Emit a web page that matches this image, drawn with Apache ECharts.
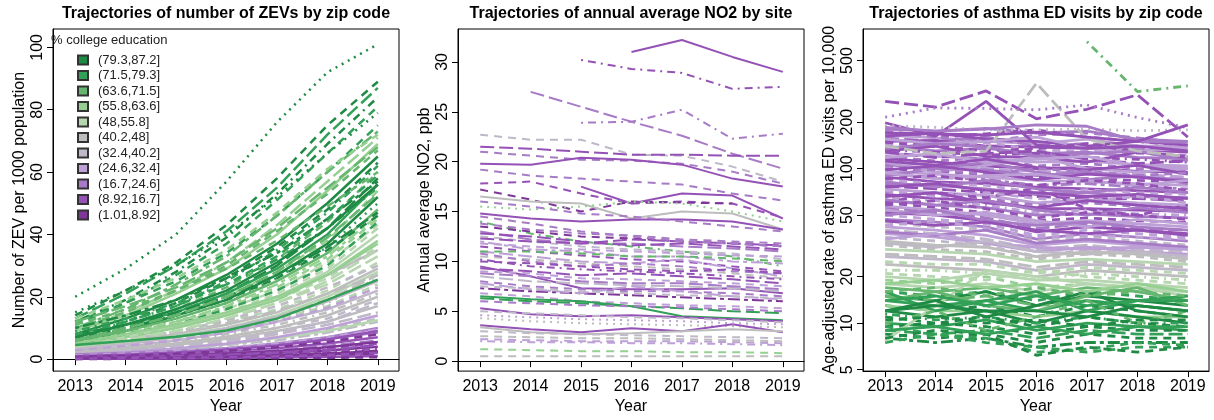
<!DOCTYPE html>
<html>
<head>
<meta charset="utf-8">
<script src="https://cdn.jsdelivr.net/npm/echarts@6/dist/echarts.min.js"></script>
<style>
  html, body { margin: 0; padding: 0; background: #fff; }
  #chart { width: 1214px; height: 420px; }
</style>
</head>
<body>
<div id="chart"></div>
<script>
const years = [2013, 2014, 2015, 2016, 2017, 2018, 2019];

const classLabels = ['(79.3,87.2]', '(71.5,79.3]', '(63.6,71.5]', '(55.8,63.6]', '(48,55.8]',
  '(40.2,48]', '(32.4,40.2]', '(24.6,32.4]', '(16.7,24.6]', '(8.92,16.7]', '(1.01,8.92]'];

const zevTicks = [0, 20, 40, 60, 80, 100];
const no2Ticks = [0, 5, 10, 15, 20, 25, 30];
const asthmaTicks = [5, 10, 20, 50, 100, 200, 500];

// ZEV per 1000 population, one row per zip code (2013..2019)
const zevValues = [
  // middle education groups
  [4.0, 6.0, 8.5, 12, 16, 22, 31], [3.5, 5.5, 8.0, 11, 15, 21, 29], [3.0, 5.0, 7.0, 10, 14, 19, 27],
  [3.0, 4.5, 6.5, 9.0, 13, 17, 24], [2.5, 4.0, 6.0, 8.5, 12, 16, 22], [2.5, 3.5, 5.5, 8.0, 11, 15, 21],
  [2.0, 3.5, 5.0, 7.0, 10, 13, 19], [2.0, 3.0, 4.5, 6.5, 9.0, 12, 17], [1.5, 2.5, 4.0, 5.5, 8.0, 11, 15],
  [1.5, 2.5, 3.5, 5.0, 7.0, 9.5, 13], [1.0, 2.0, 3.0, 4.5, 6.0, 8.5, 12], [3.5, 5.0, 7.5, 10, 14, 20, 28],
  [4.5, 6.5, 9.0, 13, 18, 24, 33], [5.0, 7.0, 10, 14, 19, 26, 36], [2.8, 4.2, 6.2, 9.0, 12.5, 18, 26],
  [1.2, 2.2, 3.2, 4.8, 6.8, 9.0, 12.5],
  [5.5, 7.5, 10.5, 14.5, 20, 27, 35], [4.2, 6.2, 8.8, 12.5, 17, 23, 30], [3.8, 5.8, 8.2, 11.5, 15.5, 21, 27],
  [3.2, 4.8, 7.0, 9.8, 13.5, 18.5, 25], [2.7, 4.2, 6.0, 8.5, 12, 16.5, 23], [2.2, 3.4, 5.0, 7.2, 10, 14, 20],
  [1.8, 2.8, 4.2, 6.0, 8.5, 12, 18], [1.4, 2.3, 3.4, 4.9, 7.0, 10, 14],
  [5, 7.5, 10.5, 14.5, 20, 28, 40], [6, 8.5, 12, 16.5, 23, 32, 45], [5.5, 8, 11.5, 16, 22, 31, 43],
  [4.8, 7, 10, 14, 19, 27, 37],
  // low education groups
  [1.0, 1.6, 2.4, 3.5, 5.0, 7.0, 10], [0.8, 1.3, 2.0, 2.9, 4.2, 6.0, 8.5], [0.6, 1.0, 1.6, 2.4, 3.5, 5.0, 7.0],
  [0.5, 0.9, 1.4, 2.0, 3.0, 4.2, 6.0], [0.4, 0.7, 1.1, 1.6, 2.4, 3.4, 5.0], [0.3, 0.5, 0.9, 1.3, 1.9, 2.8, 4.0],
  [0.3, 0.5, 0.8, 1.1, 1.6, 2.3, 3.3], [0.2, 0.4, 0.6, 0.9, 1.3, 1.9, 2.7], [0.2, 0.3, 0.5, 0.7, 1.0, 1.5, 2.1],
  [0.1, 0.2, 0.3, 0.5, 0.7, 1.1, 1.5], [0.1, 0.1, 0.2, 0.3, 0.5, 0.7, 1.0], [0.0, 0.1, 0.1, 0.2, 0.3, 0.4, 0.6],
  [1.5, 2.0, 2.6, 3.4, 4.8, 6.5, 8.5], [1.2, 1.8, 2.6, 3.6, 5.0, 7.0, 9.5],
  [0.9, 1.4, 2.1, 3.1, 4.4, 6.3, 9], [0.7, 1.1, 1.7, 2.6, 3.8, 5.5, 8], [0.5, 0.8, 1.2, 1.8, 2.6, 3.8, 5.5],
  [0.4, 0.6, 1.0, 1.4, 2.1, 3.0, 4.5], [0.2, 0.3, 0.5, 0.8, 1.2, 1.8, 2.5], [0.15, 0.25, 0.4, 0.6, 0.9, 1.3, 2.0],
  // high education groups
  [20, 29, 40, 57, 76, 92, 101], [14, 22, 31, 43, 58, 75, 89], [13, 21, 30, 41, 55, 72, 87],
  [12, 19, 28, 39, 53, 69, 84], [11, 18, 27, 37, 51, 66, 81], [15, 22, 30, 40, 52, 66, 79],
  [12, 18, 25, 34, 46, 60, 75], [10, 16, 24, 33, 46, 60, 73], [9, 15, 22, 31, 43, 57, 71],
  [9, 14, 21, 29, 40, 54, 69], [10, 15, 22, 30, 41, 53, 67], [8, 13, 19, 27, 37, 50, 65],
  [8, 12, 18, 26, 36, 48, 63], [7, 12, 17, 25, 35, 47, 62], [7, 11, 16, 23, 32, 44, 60],
  [6, 10, 15, 21, 30, 42, 58], [7, 11, 15, 21, 29, 40, 56], [6, 10, 14, 20, 28, 38, 54],
  [6, 9, 14, 19, 27, 37, 52], [5, 9, 13, 18, 26, 36, 50], [6, 9, 13, 18, 25, 34, 48],
  [5, 8, 12, 17, 24, 33, 46], [5, 8, 11, 16, 22, 30, 44], [4, 7, 11, 15, 21, 29, 42],
  [5, 8, 11, 15, 20, 27, 38], [4, 6, 9, 13, 18, 25, 35], [4.5, 5.8, 7.2, 9.2, 13, 19, 25.5],
  [8, 11, 15, 20, 27, 36, 47], [9, 13, 18, 24, 32, 42, 55], [7, 10, 14, 19, 26, 35, 46],
  [11, 16, 22, 29, 38, 49, 60], [10, 14, 19, 26, 34, 45, 57], [13, 19, 26, 35, 47, 61, 72],
  [12, 17, 23, 31, 42, 55, 68],
  [7, 11, 16, 22, 31, 42, 56], [8, 12, 17, 24, 33, 45, 59], [6, 10, 14, 20, 28, 39, 53]
];
const zevClass = [
  4, 5, 5, 4, 6, 5, 6, 5, 6, 5, 6, 4, 4, 4, 5, 4,
  5, 6, 5, 6, 7, 5, 6, 7,
  4, 3, 4, 3,
  8, 8, 9, 8, 9, 10, 9, 10, 10, 10, 9, 10, 8, 7,
  9, 10, 10, 9, 10, 9,
  0, 0, 1, 0, 1, 0, 1, 2, 3, 3, 2, 0, 0, 1, 2, 0, 1, 3, 0, 1, 2, 3, 1, 4, 3, 4, 1, 0, 1, 0, 2, 0, 3, 2,
  0, 1, 2];
const zevLty = [
  1, 0, 4, 1, 0, 3, 1, 0, 4, 1, 5, 0, 4, 1, 2, 0,
  0, 1, 4, 0, 1, 0, 4, 0,
  0, 1, 4, 0,
  0, 1, 0, 4, 1, 0, 3, 1, 0, 4, 0, 1, 0, 1,
  0, 1, 0, 4, 0, 1,
  2, 1, 4, 3, 1, 2, 1, 5, 4, 0, 1, 0, 1, 3, 1, 4, 0, 1, 0, 2, 0, 5, 1, 1, 0, 4, 0, 4, 3, 1, 1, 5, 1, 4,
  0, 1, 4];

// annual average NO2 (ppb) by monitoring site, null = no data that year
const no2Values = [
  [null, null, null, 31.0, 32.2, 30.5, 29.0], [null, null, 30.2, 29.3, 28.9, 27.3, 27.5],
  [null, 27.0, 25.5, 24.0, 22.6, 20.8, 19.3], [null, null, 23.9, 24.0, 25.2, 22.3, 22.8],
  [22.7, 22.2, 22.2, 20.7, 20.6, 19.5, 18.0], [21.5, 21.3, 21.0, 20.7, 20.7, 20.6, 20.6],
  [21.0, 20.6, 20.2, 20.1, 19.8, 19.0, 17.8], [19.8, 19.7, 20.4, 20.2, 19.7, 18.3, 17.5],
  [19.2, 18.6, 18.3, 18.0, 17.7, 16.8, 16.1], [17.8, 18.0, 16.8, 15.8, 16.0, 15.8, 14.4],
  [17.2, 16.2, 15.0, 16.0, 15.9, 15.8, null], [null, null, 17.5, 15.8, 16.8, 16.6, 14.3],
  [16.5, 16.0, 15.8, 14.3, 15.0, 14.8, 13.2], [14.8, 14.3, 14.0, 14.2, 14.2, 14.0, 13.2],
  [15.5, 15.2, 15.5, 16.0, 15.8, 15.0, 14.0], [14.0, 12.8, 12.0, 11.5, 11.0, 10.5, 9.5],
  [13.5, 13.0, 12.5, 12.3, 12.0, 11.8, 11.5], [13.0, 12.2, 11.8, 11.8, 11.5, 11.3, 11.0],
  [12.5, 12.0, 11.5, 11.2, 11.0, 10.8, 10.2], [12.0, 11.2, 11.0, 10.5, 10.5, 10.0, 9.8],
  [11.5, 11.0, 10.6, 10.2, 10.0, 9.5, 9.0], [11.0, 10.5, 10.0, 9.8, 10.2, 9.3, 8.5],
  [10.5, 10.2, 9.8, 9.5, 9.2, 8.8, 8.3], [10.2, 9.5, 9.2, 9.0, 8.8, 8.5, 8.2],
  [9.5, 8.5, 7.3, 7.2, 7.2, 7.3, 6.8], [9.0, 8.8, 8.3, 8.2, 8.0, 7.8, 7.5],
  [8.5, 8.0, 7.8, 7.6, 7.5, 7.3, 7.0], [8.0, 7.5, 7.2, 7.0, 7.0, 6.8, 6.5],
  [7.3, 7.0, 6.8, 6.6, 6.4, 6.2, 6.0], [6.8, 6.5, 6.0, 5.8, 5.6, 5.5, 5.3],
  [6.5, 6.2, 6.0, 5.5, 4.5, 4.3, 4.1], [6.3, 6.0, 5.8, 5.5, 5.3, 5.0, 4.8],
  [5.3, 4.7, 4.5, 4.6, 4.4, 4.2, 4.0], [5.0, 4.8, 4.6, 4.4, 4.3, 4.1, 3.9],
  [4.3, 4.0, 3.8, 3.7, 3.6, 3.5, 3.4], [3.6, 3.2, 2.9, 3.3, 3.0, 3.7, 2.9],
  [3.4, 2.9, 2.7, 2.8, 3.0, 3.2, 3.0], [3.0, 2.8, 2.7, 2.6, 2.5, 2.4, 2.3],
  [2.2, 2.1, 2.0, 2.0, 2.0, 1.9, 1.8], [2.0, 1.9, 1.9, 1.8, 1.8, 1.7, 1.6],
  [1.2, 1.1, 1.0, 1.0, 0.9, 0.9, 0.8], [0.5, 0.5, 0.5, 0.5, 0.5, 0.5, 0.5],
  [12.3, 12.0, 11.8, 12.2, 12.0, 11.8, 11.6], [10.8, 10.0, 9.5, 9.8, 9.5, 9.0, 8.8],
  [7.8, 7.2, 6.8, 7.5, 7.0, 6.5, 6.2], [14.5, 13.8, 13.0, 12.5, 12.0, 11.8, 11.5],
  [9.3, 9.0, 8.6, 8.8, 8.5, 8.2, 7.8], [11.0, 11.0, 10.8, 10.5, 10.5, 10.3, 10.0],
  [13.8, 13.2, 12.8, 12.6, 12.2, 12.0, 11.8], [12.8, 12.5, 12.0, 11.6, 11.8, 11.5, 11.2],
  [11.8, 11.5, 11.2, 11.0, 10.8, 10.6, 10.5], [10.0, 9.8, 9.5, 9.2, 9.0, 9.2, 8.8],
  [8.8, 8.5, 8.0, 7.8, 7.8, 7.5, 7.2], [7.5, 7.3, 7.0, 6.8, 6.6, 6.5, 6.3],
  [6.0, 5.8, 5.6, 5.5, 5.4, 5.2, 5.0], [4.6, 4.4, 4.2, 4.1, 4.0, 3.8, 3.7],
  [2.5, 2.4, 2.3, 2.3, 2.2, 2.1, 2.0], [16.0, 15.5, 14.8, 14.5, 14.0, 13.5, 13.0]
];
const no2Class = [9, 9, 8, 8, 6, 9, 8, 9, 8, 9, 10, 9, 5, 9, 3, 2, 10, 8, 6, 7, 9, 7, 5, 9,
  9, 7, 6, 8, 10, 7, 1, 1, 9, 6, 5, 9, 5, 6, 7, 7, 3, 5, 9, 8, 7, 8, 9, 2,
  8, 9, 7, 9, 8, 6, 8, 7, 5, 8];
const no2Lty = [0, 3, 4, 3, 1, 4, 1, 0, 1, 1, 1, 0, 0, 0, 2, 3, 1, 4, 1, 5, 1, 4, 1, 3,
  0, 1, 4, 1, 5, 1, 0, 4, 0, 1, 2, 0, 0, 1, 1, 3, 1, 1, 4, 1, 4, 1, 4, 1,
  1, 4, 1, 1, 4, 1, 1, 2, 1, 1];

// age-adjusted asthma ED visits per 10,000 by zip code
const asthmaValues = [
  // low education groups
  [180, 175, 182, 170, 175, 155, 150], [172, 160, 168, 178, 160, 150, 140], [165, 158, 150, 145, 155, 140, 138],
  [158, 150, 160, 140, 145, 138, 130], [150, 152, 140, 138, 135, 132, 128], [145, 138, 148, 132, 130, 125, 122],
  [140, 130, 135, 125, 128, 118, 116], [132, 128, 122, 126, 118, 115, 110], [126, 120, 116, 110, 112, 106, 104],
  [120, 112, 118, 104, 108, 100, 98], [116, 110, 104, 100, 102, 96, 95], [110, 106, 100, 96, 94, 92, 88],
  [106, 100, 98, 90, 95, 88, 85], [100, 96, 92, 88, 86, 84, 82], [96, 92, 88, 84, 82, 80, 78],
  [92, 88, 85, 78, 80, 76, 74], [88, 82, 80, 76, 74, 72, 70], [85, 80, 78, 70, 73, 70, 68],
  [80, 78, 74, 68, 70, 66, 65], [77, 74, 70, 66, 64, 64, 62], [74, 70, 67, 60, 63, 60, 58],
  [71, 67, 64, 58, 60, 57, 56], [68, 64, 62, 55, 55, 54, 53], [65, 62, 58, 52, 54, 51, 50],
  [62, 58, 56, 50, 51, 49, 48], [60, 56, 52, 46, 48, 46, 45], [57, 54, 50, 44, 46, 44, 42],
  [55, 52, 48, 41, 44, 41, 40], [52, 50, 46, 39, 42, 40, 38], [50, 47, 44, 37, 40, 38, 36],
  [47, 45, 42, 35, 38, 36, 34], [45, 42, 40, 34, 36, 34, 32], [42, 40, 37, 32, 34, 32, 30],
  [40, 38, 35, 30, 32, 30, 29], [38, 36, 33, 29, 31, 29, 28], [36, 34, 32, 27, 30, 28, 27],
  [130, 140, 120, 118, 110, 128, 120], [90, 100, 110, 95, 85, 90, 80], [60, 70, 65, 75, 55, 50, 58],
  [110, 95, 105, 120, 100, 95, 100],
  [175, 160, 150, 165, 170, 158, 145], [162, 170, 155, 150, 140, 150, 142], [155, 145, 150, 160, 135, 130, 135],
  [148, 140, 130, 135, 145, 128, 118], [135, 145, 138, 120, 125, 130, 112], [128, 118, 125, 130, 115, 108, 112],
  [118, 125, 110, 115, 120, 104, 100], [112, 105, 115, 102, 98, 105, 92], [104, 98, 92, 100, 96, 90, 94],
  [98, 104, 95, 85, 92, 88, 82], [94, 86, 90, 92, 84, 78, 84], [86, 90, 82, 78, 84, 80, 72],
  [82, 76, 84, 74, 70, 76, 70], [76, 80, 72, 70, 66, 68, 64], [72, 66, 70, 64, 62, 66, 60],
  [66, 70, 60, 56, 62, 58, 55], [63, 58, 62, 54, 50, 56, 52], [58, 62, 55, 48, 52, 50, 47],
  [54, 50, 52, 46, 42, 47, 44], [50, 54, 46, 43, 45, 42, 40], [46, 43, 45, 40, 38, 40, 37],
  [43, 46, 41, 36, 37, 36, 35], [39, 37, 40, 33, 35, 33, 31], [35, 38, 33, 31, 30, 31, 30],
  [33, 31, 34, 29, 28, 29, 27],
  // middle education groups
  [34, 32, 31, 27, 29, 28, 26], [32, 30, 29, 26, 28, 27, 25], [30, 29, 28, 25, 26, 25, 24],
  [28, 27, 26, 23, 25, 24, 23], [27, 26, 25, 22, 24, 23, 22], [25, 24, 24, 21, 23, 22, 21],
  [24, 23, 22, 20, 22, 21, 20], [22, 22, 21, 19, 21, 20, 19],
  // high education groups
  [20, 19, 21, 19, 19, 18, 17], [19, 18, 20, 17, 18, 17, 16], [18, 17, 18, 16, 18, 17, 15],
  [17, 16, 17, 15, 17, 16, 14], [16, 15, 16, 14, 16, 15, 14], [15, 14, 16, 13, 15, 14, 13],
  [15, 14, 15, 13, 14, 13, 12], [14, 13, 14, 12, 14, 13, 12], [13, 12, 13, 11, 13, 12, 11],
  [13, 12, 12, 11, 12, 11, 11], [12, 11, 12, 10, 12, 11, 10], [11.5, 10.5, 11, 10, 11, 10, 10],
  [11, 10, 11, 9.5, 11, 10, 9.5], [10, 9.5, 10.5, 9, 10, 9.5, 9], [9.5, 10, 9.5, 8.5, 9.5, 9, 9],
  [9, 8.5, 9, 8, 9, 8.5, 8.5], [8.5, 8, 8.5, 7.5, 8.5, 8, 8], [8, 7.5, 8, 7, 7.5, 7.5, 7.5],
  [7.5, 8.5, 7.5, 7, 6.5, 7, 7], [9.5, 8.5, 8, 6.5, 6.8, 7.5, 7.2], [7.7, 13, 22, 20, 18, 17, 16],
  [14, 16, 13, 12, 15, 17, 13], [16, 12, 14, 16, 12, 14, 15], [12, 14, 11, 13, 16, 12, 11],
  [10, 12, 9, 11, 14, 10, 12], [8, 9, 8.5, 6.2, 7, 6.5, 7],
  [21, 20, 19, 22, 20, 19, 18], [18, 19, 17, 18, 16, 18, 16], [16, 17, 15, 17, 15, 16, 15],
  [14, 15, 13, 15, 13, 14, 14], [12, 13, 12, 12, 11, 13, 12], [10.5, 11, 10, 10.5, 9.5, 10.5, 10.5],
  [9, 9.5, 8.5, 9.5, 8.5, 9.5, 9.5],
  // outlying zip codes above the bulk
  [null, null, null, null, 662, 315, 343], [140, 125, 130, 357, 155, 130, 120],
  [272, 250, 318, 210, 242, 300, 160], [198, 162, 272, 142, 135, 140, 130],
  [215, 247, 245, 240, 258, 214, 184], [190, 185, 178, 178, 180, 176, 178],
  [185, 175, 180, 192, 188, 150, 148], [170, 168, 165, 172, 160, 150, 192]
];
const asthmaClass = [
  8, 9, 7, 8, 9, 7, 8, 9, 7, 8, 9, 7, 8, 9, 7, 8, 9, 7, 8, 9, 7, 8, 9, 7, 8, 9, 7, 8, 9, 7,
  8, 6, 7, 6, 7, 6, 9, 8, 9, 7,
  8, 9, 7, 9, 8, 9, 7, 9, 8, 9, 7, 9, 8, 9, 7, 9, 8, 9, 7, 8, 9, 7, 8, 7, 6,
  5, 5, 4, 5, 6, 4, 5, 4,
  4, 3, 4, 2, 1, 0, 2, 1, 0, 3, 0, 1, 0, 1, 0, 1, 0, 0, 1, 1, 4, 2, 1, 0, 2, 0,
  4, 3, 2, 1, 0, 0, 1,
  2, 5, 9, 9, 8, 6, 8, 9];
const asthmaLty = [
  0, 1, 0, 4, 0, 1, 0, 3, 0, 1, 0, 4, 0, 1, 0, 5, 0, 1, 0, 4, 0, 1, 0, 3, 0, 1, 0, 4, 0, 1,
  0, 1, 0, 4, 0, 1, 0, 0, 1, 0,
  1, 0, 0, 1, 0, 4, 0, 0, 1, 0, 0, 1, 0, 0, 1, 0, 0, 1, 0, 0, 0, 1, 0, 0, 0,
  0, 1, 0, 4, 0, 1, 0, 3,
  0, 1, 0, 0, 1, 0, 4, 0, 1, 0, 0, 3, 1, 0, 1, 4, 1, 5, 1, 1, 0, 0, 0, 0, 1, 1,
  1, 0, 1, 0, 0, 1, 0,
  3, 4, 4, 0, 2, 2, 0, 0];

const classColors = ['#1f8a44', '#33a057', '#66b670', '#95cf91', '#b6d6b0', '#bdbdbd',
  '#bfb8c8', '#bda0d6', '#a77bc6', '#9552b6', '#7e3698'];
const ltyDash = ['solid', [8, 6], [2, 5], [2, 5, 8, 5], [14, 5], [4, 4, 12, 4]];
const font = 'Liberation Sans, Arial, sans-serif';

function trajectories(values, cls, lty, idx, width) {
  return values.map((row, i) => ({
    type: 'line',
    xAxisIndex: idx,
    yAxisIndex: idx,
    data: years.map((y, j) => [y, row[j]]),
    symbol: 'none',
    silent: true,
    lineStyle: { color: classColors[cls[i]], width: width, type: ltyDash[lty[i]] }
  }));
}

function xAxis(idx) {
  return {
    type: 'value', gridIndex: idx, min: 2012.56, max: 2019.42,
    name: 'Year', nameLocation: 'middle', nameGap: 25,
    nameTextStyle: { fontSize: 16, color: '#000', fontFamily: font },
    axisLine: { show: true, lineStyle: { color: '#000' } },
    axisTick: { show: true, length: 6, lineStyle: { color: '#000' }, customValues: years },
    axisLabel: { customValues: years, fontSize: 16, color: '#000', margin: 7, fontFamily: font,
      formatter: v => String(v) },
    splitLine: { show: false }
  };
}

function yAxis(idx, name, ticks, extra) {
  return Object.assign({
    type: 'value', gridIndex: idx,
    name: name, nameLocation: 'middle', nameGap: 25,
    nameTextStyle: { fontSize: 16, color: '#000', fontFamily: font },
    axisLine: { show: true, lineStyle: { color: '#000' } },
    axisTick: { show: true, length: 6, lineStyle: { color: '#000' }, customValues: ticks },
    axisLabel: { customValues: ticks, fontSize: 16, color: '#000', margin: 7, rotate: 90, fontFamily: font },
    splitLine: { show: false }
  }, extra);
}

const grids = [53, 458, 863].map(left => ({
  left: left, top: 29, width: 346, height: 343,
  show: true, borderColor: '#000', borderWidth: 1, backgroundColor: 'transparent'
}));

const legendSeries = classLabels.map((label, i) => ({
  type: 'bar', name: label, data: [], xAxisIndex: 0, yAxisIndex: 0,
  itemStyle: { color: classColors[i], borderColor: '#333', borderWidth: 1 }
}));

const titleStyle = { fontSize: 16, fontWeight: 'bold', color: '#000', fontFamily: font };

const chart = echarts.init(document.getElementById('chart'));
chart.setOption({
  animation: false,
  backgroundColor: '#fff',
  title: [
    { text: 'Trajectories of number of ZEVs by zip code', left: 226, top: 6, textAlign: 'center', padding: 0, textStyle: titleStyle },
    { text: 'Trajectories of annual average NO2 by site', left: 631, top: 6, textAlign: 'center', padding: 0, textStyle: titleStyle },
    { text: 'Trajectories of asthma ED visits by zip code', left: 1036, top: 6, textAlign: 'center', padding: 0, textStyle: titleStyle },
    { text: '% college education', left: 51, top: 34, padding: 0,
      textStyle: { fontSize: 13, fontWeight: 'normal', color: '#222', fontFamily: font } }
  ],
  legend: {
    orient: 'vertical', left: 77, top: 53, padding: 0,
    itemWidth: 10, itemHeight: 9, itemGap: 1.5, icon: 'rect',
    selectedMode: false,
    data: classLabels,
    textStyle: { fontSize: 13, color: '#222', lineHeight: 14, fontFamily: font, padding: [0, 0, 0, 5] }
  },
  grid: grids,
  xAxis: [xAxis(0), xAxis(1), xAxis(2)],
  yAxis: [
    yAxis(0, 'Number of ZEV per 1000 population', zevTicks, { min: -3.84, max: 105.9 }),
    yAxis(1, 'Annual average NO2, ppb', no2Ticks, { min: -1.0, max: 33.3 }),
    yAxis(2, 'Age-adjusted rate of asthma ED visits per 10,000', asthmaTicks,
      { type: 'log', logBase: 10, min: 4.9, max: 800 })
  ],
  series: [].concat(
    legendSeries,
    trajectories(zevValues, zevClass, zevLty, 0, 2.5),
    trajectories(no2Values, no2Class, no2Lty, 1, 2),
    trajectories(asthmaValues, asthmaClass, asthmaLty, 2, 2.8)
  )
});
</script>
</body>
</html>
